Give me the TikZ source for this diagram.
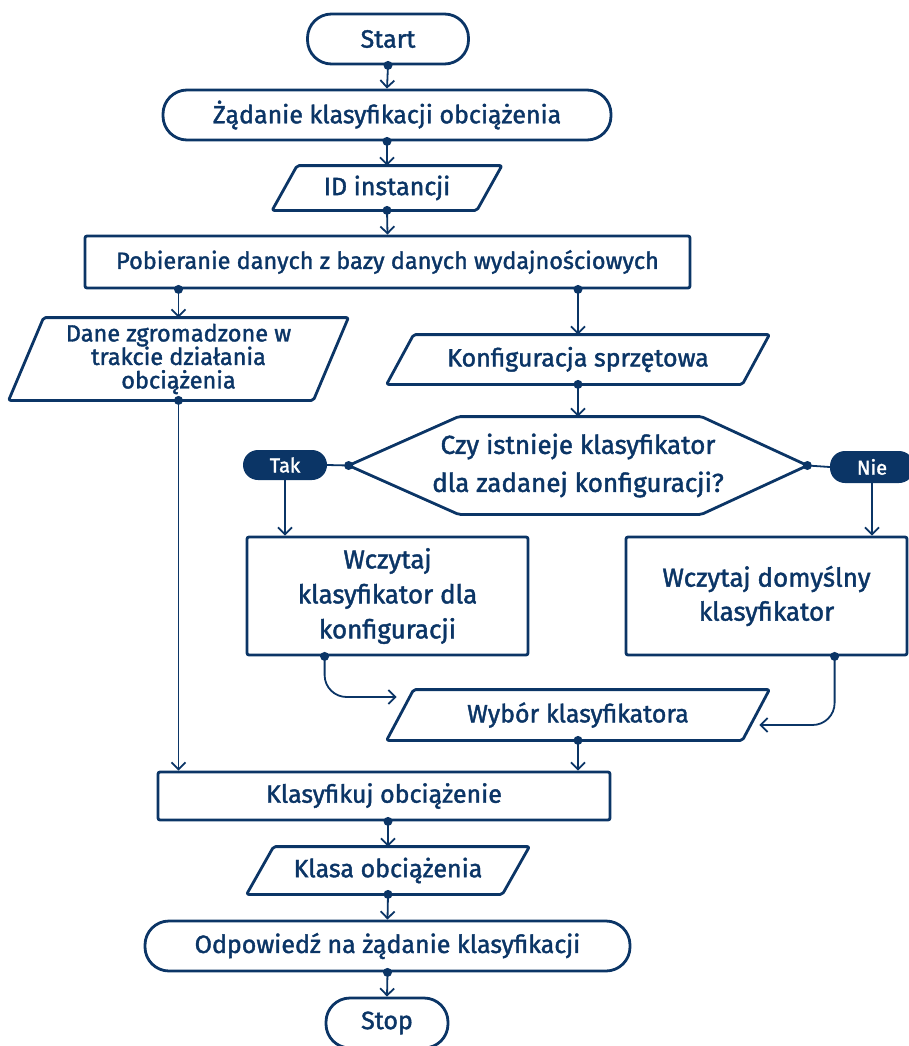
\documentclass[tikz,border=0pt]{standalone}
\usepackage{fontspec}
\setmainfont{Fira Sans}[FakeBold=1.6]
\usetikzlibrary{arrows.meta,calc}
\definecolor{navy}{HTML}{0B3566}
\tikzset{
  base/.style={draw=navy, line width=2.8pt, text=navy, align=center, font=\fontsize{25}{29}\selectfont, inner sep=0pt},
  term/.style={base, rounded corners=24pt},
  proc/.style={base, rounded corners=2pt},
  iobox/.style={base, draw=none},
  lab/.style={fill=navy, text=white, rounded corners=15pt, font=\fontsize{20}{22}\selectfont, inner sep=0pt},
  conn/.style={draw=navy, line width=1.8pt, -{Straight Barb[length=7pt,width=14pt,line width=1.8pt]}},
  dotline/.style={draw=navy, line width=1.8pt},
  shp/.style={draw=navy, line width=2.8pt, rounded corners=2pt, line join=round},
}
\newcommand{\dotat}[1]{\fill[navy] (#1) circle (4.5pt);}
\begin{document}
\begin{tikzpicture}[x=1pt,y=-1pt]
\clip (0,0) rectangle (909,1046);
\useasboundingbox (0,0) rectangle (909,1046);

% nodes
\node[term, minimum width=161pt, minimum height=50pt] (start) at (388,39) {Start};
\node[term, minimum width=448pt, minimum height=50pt] (req) at (387,115) {Żądanie klasyfikacji obciążenia};
\node[iobox, minimum width=227pt, minimum height=42pt] (id) at (387,188) {ID instancji};
\node[proc, minimum width=605pt, minimum height=52pt] (fetch) at (387.5,262) {\fontsize{23.5}{27}\selectfont Pobieranie danych z bazy danych wydajnościowych};
\node[iobox, minimum width=337pt, minimum height=80pt, font=\fontsize{23.5}{23.5}\selectfont] (dane) at (178.5,359) {Dane zgromadzone w\\trakcie działania\\obciążenia};
\node[iobox, minimum width=380pt, minimum height=47pt] (konf) at (578,359.5) {Konfiguracja sprzętowa};
\node[iobox, minimum width=456pt, minimum height=95pt, font=\fontsize{26}{38}\selectfont] (dec) at (578,465.5) {Czy istnieje klasyfikator\\dla zadanej konfiguracji?};
\node[lab, minimum width=84pt, minimum height=30pt] (tak) at (285,465) {Tak};
\node[lab, minimum width=84pt, minimum height=32pt] (nie) at (872,467) {Nie};
\node[proc, minimum width=281pt, minimum height=118pt, font=\fontsize{26}{35}\selectfont] (wk) at (387.5,596) {Wczytaj\\klasyfikator dla\\konfiguracji};
\node[proc, minimum width=281pt, minimum height=118pt, font=\fontsize{26}{34}\selectfont] (wd) at (766.5,596) {Wczytaj domyślny\\klasyfikator};
\node[iobox, minimum width=380pt, minimum height=48pt] (wyb) at (578,715) {Wybór klasyfikatora};
\node[proc, minimum width=452pt, minimum height=48pt] (klas) at (384,796) {Klasyfikuj obciążenie};
\node[iobox, minimum width=280pt, minimum height=45pt] (klasa) at (388,870.5) {Klasa obciążenia};
\node[term, minimum width=485pt, minimum height=50pt] (odp) at (387.5,946) {Odpowiedź na żądanie klasyfikacji};
\node[term, minimum width=122pt, minimum height=50pt] (stop) at (387,1023) {Stop};

% parallelograms
\foreach \n/\s in {id/25, dane/35, konf/27, wyb/27, klasa/27}{
  \draw[shp] ($(\n.north west)+(\s,0)$) -- (\n.north east) -- ($(\n.south east)-(\s,0)$) -- (\n.south west) -- cycle;
}
% hexagon
\draw[shp] (dec.west) -- ($(dec.north west)+(110,0)$) -- ($(dec.north east)-(106,0)$) -- (dec.east)
  -- ($(dec.south east)-(106,0)$) -- ($(dec.south west)+(110,0)$) -- cycle;

% connectors
\draw[conn] (start.south) -- (req.north);
\dotat{start.south}
\draw[conn] (req.south) -- (id.north);
\dotat{req.south}
\draw[conn] (id.south) -- (fetch.north);
\dotat{id.south}
\draw[conn] (fetch.south -| dane.north) coordinate (f1) -- (dane.north);
\dotat{f1}
\draw[conn] (fetch.south -| konf.north) coordinate (f2) -- (konf.north);
\dotat{f2}
\draw[conn] (konf.south) -- (dec.north);
\dotat{konf.south}
\draw[dotline] (dec.west) -- (tak.east);
\dotat{dec.west}
\draw[dotline] (dec.east) -- (nie.west);
\dotat{dec.east}
\draw[conn] (tak.south) -- (tak.south |- wk.north);
\draw[conn] (nie.south) -- (nie.south |- wd.north);
\coordinate (wk1) at ($(wk.south west)+(79,0)$);
\coordinate (wyb1) at ($(wyb.west)+(10,-18)$);
\draw[conn, rounded corners=22pt] (wk1) |- (wyb1);
\dotat{wk1}
\coordinate (wd1) at ($(wd.south west)+(210,0)$);
\coordinate (wyb2) at ($(wyb.east)+(-10,10)$);
\draw[conn, rounded corners=22pt] (wd1) |- (wyb2);
\dotat{wd1}
\draw[conn] (wyb.south) -- (wyb.south |- klas.north);
\dotat{wyb.south}
\draw[conn] (dane.south) -- (dane.south |- klas.north);
\dotat{dane.south}
\draw[conn] (klas.south -| klasa.north) coordinate (k1) -- (klasa.north);
\dotat{k1}
\draw[conn] (klasa.south) -- (odp.north);
\dotat{klasa.south}
\draw[conn] (odp.south) -- (stop.north);
\dotat{odp.south}
\end{tikzpicture}
\end{document}
